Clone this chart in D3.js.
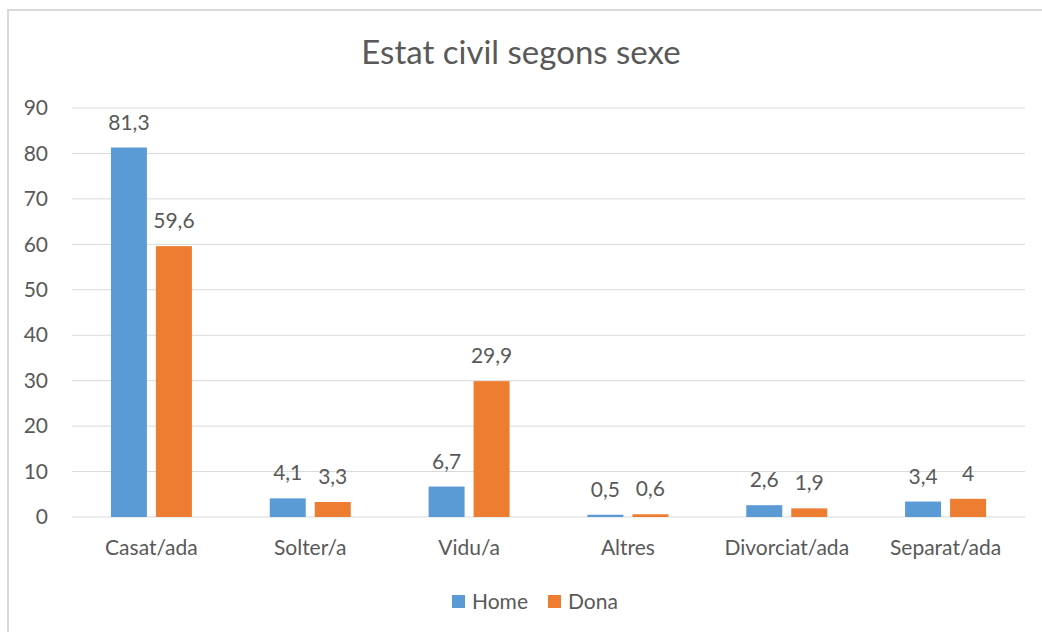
<!DOCTYPE html>
<html>
<head>
<meta charset="utf-8">
<style>
  body { margin: 0; background: #fff; }
  text { font-family: Lato, "Open Sans", sans-serif; fill: #595959; }
  .grid line { stroke: #d9d9d9; stroke-width: 1; }
</style>
</head>
<body>
<svg width="1042" height="632"></svg>
<script src="https://cdn.jsdelivr.net/npm/d3@7"></script>
<script>
var categories = ["Casat/ada", "Solter/a", "Vidu/a", "Altres", "Divorciat/ada", "Separat/ada"];
var homeValues = [81.3, 4.1, 6.7, 0.5, 2.6, 3.4];
var donaValues = [59.6, 3.3, 29.9, 0.6, 1.9, 4];
var seriesNames = ["Home", "Dona"];
var colors = ["#5b9bd5", "#ed7d31"];
var yTicks = [0, 10, 20, 30, 40, 50, 60, 70, 80, 90];

var svg = d3.select("svg");
var fs = 21;

// outer chart border (runs past the picture on right and bottom)
svg.append("rect")
  .attr("x", 8).attr("y", 10)
  .attr("width", 1100).attr("height", 700)
  .attr("fill", "none")
  .attr("stroke", "#d9d9d9")
  .attr("stroke-width", 2);

var plotLeft = 72, plotRight = 1025, plotTop = 108, plotBottom = 517;

var x = d3.scaleBand().domain(categories).range([plotLeft, plotRight]);
var y = d3.scaleLinear().domain([0, 90]).range([plotBottom, plotTop]);

var barW = 36, gap = 9;
var sub = d3.scaleOrdinal().domain(seriesNames).range([-(barW + gap) / 2, (barW + gap) / 2]);

// gridlines
svg.append("g").attr("class", "grid")
  .selectAll("line").data(yTicks).enter().append("line")
  .attr("x1", plotLeft).attr("x2", plotRight)
  .attr("y1", function(d) { return y(d); })
  .attr("y2", function(d) { return y(d); });

// y axis labels
var yAxis = svg.append("g")
  .attr("transform", "translate(" + plotLeft + ",0)")
  .call(d3.axisLeft(y).tickValues(yTicks).tickSize(0).tickPadding(24));
yAxis.select(".domain").remove();
yAxis.selectAll("text").attr("font-size", fs).attr("fill", "#595959")
  .style("font-family", "Lato, sans-serif");

// x axis labels
var xAxis = svg.append("g")
  .attr("transform", "translate(0," + plotBottom + ")")
  .call(d3.axisBottom(x).tickSize(0).tickPadding(23));
xAxis.select(".domain").remove();
xAxis.selectAll("text").attr("font-size", fs).attr("fill", "#595959")
  .style("font-family", "Lato, sans-serif");

var rows = [];
categories.forEach(function(c, i) {
  rows.push({cat: c, s: "Home", v: homeValues[i], col: colors[0]});
  rows.push({cat: c, s: "Dona", v: donaValues[i], col: colors[1]});
});

svg.append("g").selectAll("rect").data(rows).enter().append("rect")
  .attr("x", function(d) { return x(d.cat) + x.bandwidth() / 2 + sub(d.s) - barW / 2; })
  .attr("y", function(d) { return y(d.v); })
  .attr("width", barW)
  .attr("height", function(d) { return plotBottom - y(d.v); })
  .attr("fill", function(d) { return d.col; });

svg.append("g").selectAll("text").data(rows).enter().append("text")
  .attr("x", function(d) { return x(d.cat) + x.bandwidth() / 2 + sub(d.s); })
  .attr("y", function(d) { return y(d.v) - 18; })
  .attr("text-anchor", "middle")
  .attr("font-size", fs)
  .text(function(d) { return String(d.v).replace(".", ","); });

// title
svg.append("text")
  .attr("x", 521).attr("y", 64)
  .attr("text-anchor", "middle")
  .attr("font-size", 33)
  .text("Estat civil segons sexe");

// legend
var legend = svg.append("g");
var legendX = [452, 548];
seriesNames.forEach(function(n, i) {
  legend.append("rect")
    .attr("x", legendX[i]).attr("y", 595)
    .attr("width", 13).attr("height", 13)
    .attr("fill", colors[i]);
  legend.append("text")
    .attr("x", legendX[i] + 20).attr("y", 609)
    .attr("font-size", fs)
    .text(n);
});
</script>
</body>
</html>
